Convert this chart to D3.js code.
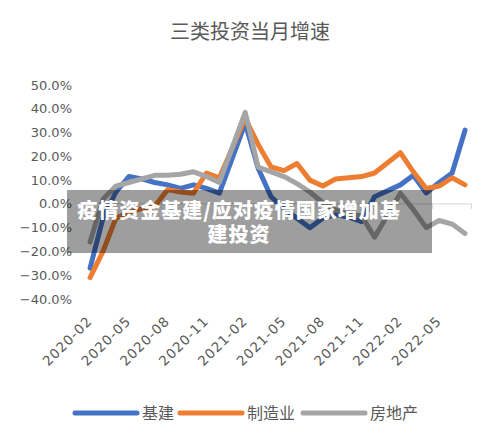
<!DOCTYPE html>
<html>
<head>
<meta charset="utf-8">
<script src="https://cdn.jsdelivr.net/npm/d3@7"></script>
<style>
  body { margin: 0; background: #fff; }
</style>
</head>
<body>
<div id="chart"></div>
<script>
// months Feb 2020 .. Jul 2022, January values are blank in the source
const months = [
  "2020-02", "2020-03", "2020-04", "2020-05", "2020-06", "2020-07", "2020-08", "2020-09", "2020-10", "2020-11", "2020-12",
  "2021-01", "2021-02", "2021-03", "2021-04", "2021-05", "2021-06", "2021-07", "2021-08", "2021-09", "2021-10", "2021-11", "2021-12",
  "2022-01", "2022-02", "2022-03", "2022-04", "2022-05", "2022-06", "2022-07"
];
const infra = [-27, -6, 5, 11.5, 10.5, 9, 8, 6.5, 8, 6.5, 4.5, null, 34, 15, 3, -2, -6, -10, -6, -4.5, -5.5, -7.5, 3, null, 8, 12, 4.6, 9, 13, 31];
const manuf = [-31, -20, -6, -3.5, -2, -1, 6, 5, 4.5, 13, 11, null, 36, 25, 15.5, 14, 17, 10, 7.5, 10.5, 11, 11.5, 13, null, 21.5, 13.5, 6.5, 7.5, 11, 8];
const realty = [-16, 2, 7.5, 9, 10.5, 12, 12, 12.5, 13.5, 11.5, 9, null, 38.5, 15.5, 13.5, 11.5, 8.5, 5, 0.5, -2.5, -4.5, -5, -14, null, 4.5, -2.4, -10, -7, -8.5, -12.5];
const seriesNames = ["基建", "制造业", "房地产"];
const yTicks = [-40, -30, -20, -10, 0, 10, 20, 30, 40, 50];
const title = "三类投资当月增速";
const bannerLines = ["疫情资金基建/应对疫情国家增加基", "建投资"];

const width = 500, height = 443;
const colors = ["#4472C4", "#ED7D31", "#A5A5A5"];
const textColor = "#595959";

const svg = d3.select("#chart").append("svg")
  .attr("width", width)
  .attr("height", height);

const x = d3.scaleBand().domain(months).range([83.6, 471.5]).padding(0);
const y = d3.scaleLinear().domain([-40, 50]).range([299, 85]);
const cx = m => x(m) + x.bandwidth() / 2;

// title
svg.append("text")
  .attr("x", 250).attr("y", 39)
  .attr("text-anchor", "middle")
  .attr("font-family", "'Noto Sans CJK SC', sans-serif")
  .attr("font-size", 20)
  .attr("fill", textColor)
  .text(title);

// y labels (no axis line)
svg.append("g").selectAll("text")
  .data(yTicks)
  .enter().append("text")
  .attr("x", 72)
  .attr("y", d => y(d))
  .attr("dy", "0.35em")
  .attr("text-anchor", "end")
  .attr("font-family", "'DejaVu Sans', sans-serif")
  .attr("font-size", 13)
  .attr("fill", textColor)
  .text(d => (d < 0 ? "−" : "") + Math.abs(d).toFixed(1) + "%");

// x axis line at 0 with tick marks every 3 months
const axisG = svg.append("g");
axisG.append("line")
  .attr("x1", x.range()[0]).attr("x2", x.range()[1])
  .attr("y1", y(0)).attr("y2", y(0))
  .attr("stroke", "#d9d9d9").attr("stroke-width", 1);
const tickPos = d3.range(0, months.length + 1, 3).map(i => x.range()[0] + i * x.bandwidth());
axisG.selectAll("line.tick")
  .data(tickPos)
  .enter().append("line")
  .attr("class", "tick")
  .attr("x1", d => d).attr("x2", d => d)
  .attr("y1", y(0)).attr("y2", y(0) + 5)
  .attr("stroke", "#d9d9d9");

// rotated month labels at the bottom
const labelMonths = months.filter((m, i) => i % 3 === 0);
svg.append("g").selectAll("text")
  .data(labelMonths)
  .enter().append("text")
  .attr("transform", d => `translate(${cx(d) + 3},${322}) rotate(-45)`)
  .attr("text-anchor", "end")
  .attr("font-family", "'DejaVu Sans', sans-serif")
  .attr("font-size", 13.5)
  .attr("letter-spacing", 1)
  .attr("fill", textColor)
  .text(d => d);

// lines
const line = d3.line()
  .x(d => cx(d.m))
  .y(d => y(d.v));

[infra, manuf, realty].forEach((vals, k) => {
  const pts = months.map((m, i) => ({ m, v: vals[i] })).filter(d => d.v !== null);
  svg.append("path")
    .datum(pts)
    .attr("d", line)
    .attr("fill", "none")
    .attr("stroke", colors[k])
    .attr("stroke-width", 5)
    .attr("stroke-linejoin", "round")
    .attr("stroke-linecap", "round");
});

// legend
const legendX = [75, 180, 303];
const legend = svg.append("g");
seriesNames.forEach((name, k) => {
  legend.append("line")
    .attr("x1", legendX[k]).attr("x2", legendX[k] + 62)
    .attr("y1", 413).attr("y2", 413)
    .attr("stroke", colors[k])
    .attr("stroke-width", 5)
    .attr("stroke-linecap", "round");
  legend.append("text")
    .attr("x", legendX[k] + 67).attr("y", 413)
    .attr("dy", "0.36em")
    .attr("font-family", "'Noto Sans CJK SC', sans-serif")
    .attr("font-size", 16)
    .attr("fill", textColor)
    .text(name);
});

// caption banner on top
svg.append("rect")
  .attr("x", 67).attr("y", 190)
  .attr("width", 365).attr("height", 63)
  .attr("fill", "rgba(0,0,0,0.38)");
svg.append("g").selectAll("text")
  .data(bannerLines)
  .enter().append("text")
  .attr("x", 239)
  .attr("y", (d, i) => 218 + i * 24)
  .attr("text-anchor", "middle")
  .attr("font-family", "'Noto Sans CJK SC', sans-serif")
  .attr("font-weight", 900)
  .attr("font-size", 20)
  .attr("letter-spacing", 1)
  .attr("fill", "#fff")
  .text(d => d);
</script>
</body>
</html>
